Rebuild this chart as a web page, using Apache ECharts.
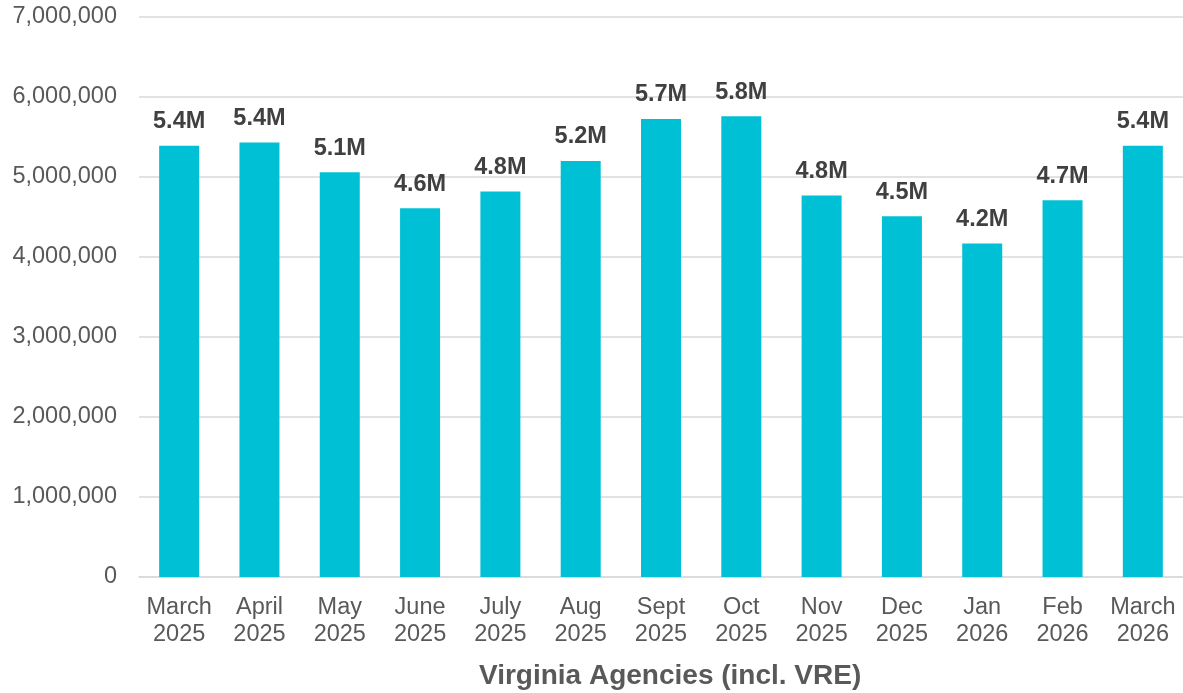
<!DOCTYPE html>
<html>
<head>
<meta charset="utf-8">
<style>
  html, body { margin: 0; padding: 0; background: #fff; }
  #chart { width: 1183px; height: 693px; }
</style>
<script src="https://cdn.jsdelivr.net/npm/echarts@6/dist/echarts.min.js"></script>
</head>
<body>
<div id="chart"></div>
<script>
  // months on the x axis (two lines each)
  var months = ['March\n2025', 'April\n2025', 'May\n2025', 'June\n2025', 'July\n2025', 'Aug\n2025',
    'Sept\n2025', 'Oct\n2025', 'Nov\n2025', 'Dec\n2025', 'Jan\n2026', 'Feb\n2026', 'March\n2026']
  // ridership
  var riders = [5390000, 5430000, 5060000, 4610000, 4820000, 5200000,
    5725000, 5760000, 4770000, 4510000, 4170000, 4710000, 5390000]
  var yTicks = [0, 1000000, 2000000, 3000000, 4000000, 5000000, 6000000, 7000000]
  var chartTitle = 'Virginia Agencies (incl. VRE)'

  var font = '"Liberation Sans", Arial, sans-serif'
  var dom = echarts.init(document.getElementById('chart'))
  var option = {
    animation: false,
    textStyle: { fontFamily: font },
    title: {
      text: chartTitle,
      left: 474,
      top: 657,
      textStyle: { fontFamily: font, fontSize: 28, fontWeight: 'bold', color: '#595959' }
    },
    grid: { left: 139, right: 0, top: 17, bottom: 116, containLabel: false },
    xAxis: {
      type: 'category',
      data: months,
      axisLine: { show: true, lineStyle: { color: '#d9d9d9', width: 1.5 } },
      axisTick: { show: false },
      axisLabel: {
        color: '#595959',
        fontSize: 23.5,
        lineHeight: 27,
        margin: 17,
        interval: 0
      }
    },
    yAxis: {
      type: 'value',
      min: yTicks[0],
      max: yTicks[yTicks.length - 1],
      interval: 1000000,
      axisLine: { show: false },
      axisTick: { show: false },
      splitLine: { lineStyle: { color: '#d9d9d9', width: 1.5 } },
      axisLabel: {
        color: '#595959',
        fontSize: 23.5,
        margin: 22,
        formatter: function (v) { return v.toLocaleString('en-US') }
      }
    },
    series: [{
      type: 'bar',
      data: riders,
      barWidth: 40,
      itemStyle: { color: '#00c0d6' },
      label: {
        show: true,
        position: 'top',
        distance: 12,
        color: '#404040',
        fontSize: 23.5,
        fontWeight: 'bold',
        formatter: function (p) { return (p.value / 1000000).toFixed(1) + 'M' }
      }
    }]
  }
  dom.setOption(option)
  window.addEventListener('resize', dom.resize)
</script>
</body>
</html>
